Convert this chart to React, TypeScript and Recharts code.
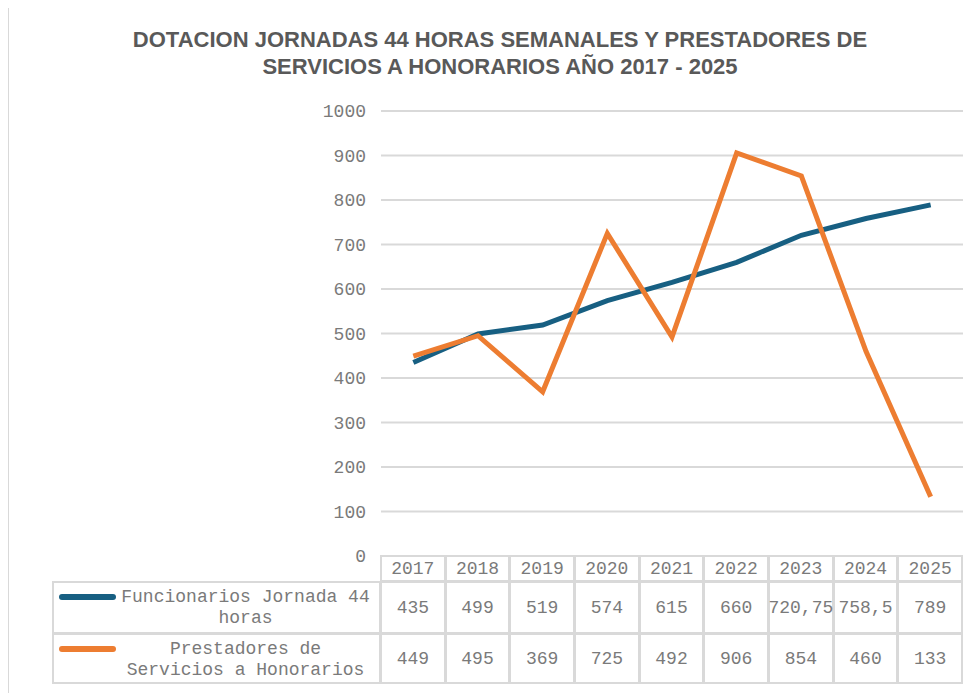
import { LineChart, Line, XAxis, YAxis, CartesianGrid } from 'recharts'

const years = ['2017', '2018', '2019', '2020', '2021', '2022', '2023', '2024', '2025']
const funcionarios = [435, 499, 519, 574, 615, 660, 720.75, 758.5, 789]
const prestadores = [449, 495, 369, 725, 492, 906, 854, 460, 133]
const yTicks = [0, 100, 200, 300, 400, 500, 600, 700, 800, 900, 1000]

const seriesInfo = [
  { key: 'funcionarios', values: funcionarios, color: '#175F82', label: ['Funcionarios Jornada 44', 'horas'] },
  { key: 'prestadores', values: prestadores, color: '#ED7D31', label: ['Prestadores de', 'Servicios a Honorarios'] },
]

const data = years.map((y, i) => ({ year: y, funcionarios: funcionarios[i], prestadores: prestadores[i] }))

const W = 972
const H = 685
const PLOT_L = 373
const PLOT_R = 955
const PLOT_T = 103
const PLOT_B = 548
const colW = (PLOT_R - PLOT_L) / years.length
const rowTops = [PLOT_B, 574, 626, 676]
const LEG_L = 45
const BORDER = '#d9d9d9'
const TEXT = '#7a7a7a'
const mono = '"Liberation Mono", "DejaVu Sans Mono", monospace'

const fmt = (v: number) => String(v).replace('.', ',')

export default function App() {
  const cell = (left: number, top: number, width: number, height: number, content: React.ReactNode, key: string) => (
    <div
      key={key}
      style={{
        position: 'absolute',
        left,
        top,
        width,
        height,
        boxSizing: 'border-box',
        border: `2px solid ${BORDER}`,
        marginLeft: -1,
        marginTop: -1,
        display: 'flex',
        alignItems: 'center',
        justifyContent: 'center',
        whiteSpace: 'nowrap',
        overflow: 'visible',
        fontFamily: mono,
        fontSize: 18,
        color: TEXT,
      }}
    >
      {content}
    </div>
  )

  return (
    <div style={{ position: 'relative', width: W, height: H, background: '#fff' }}>
      <div
        style={{
          position: 'absolute',
          left: -1,
          top: -2,
          width: 1000,
          height: 700,
          border: `2px solid ${BORDER}`,
          boxSizing: 'border-box',
        }}
      />
      <div
        style={{
          position: 'absolute',
          left: 0,
          width: 984,
          top: 18,
          textAlign: 'center',
          fontFamily: '"Liberation Sans", Arial, sans-serif',
          fontWeight: 'bold',
          fontSize: 22,
          lineHeight: '27px',
          color: '#595959',
        }}
      >
        DOTACION JORNADAS 44 HORAS SEMANALES Y PRESTADORES DE
        <br />
        SERVICIOS A HONORARIOS AÑO 2017 - 2025
      </div>
      <div style={{ position: 'absolute', left: 0, top: 0 }}>
        <LineChart
          width={W}
          height={H}
          data={data}
          margin={{ top: PLOT_T, left: PLOT_L - 80, right: W - PLOT_R, bottom: H - PLOT_B }}
        >
          <CartesianGrid vertical={false} stroke={BORDER} strokeWidth={2} />
          <XAxis dataKey="year" hide padding={{ left: colW / 2, right: colW / 2 }} />
          <YAxis
            width={80}
            domain={[0, 1000]}
            ticks={yTicks}
            axisLine={false}
            tickLine={false}
            tickMargin={9}
            tick={{ fill: TEXT, fontFamily: mono, fontSize: 18 }}
          />
          {seriesInfo.map(s => (
            <Line
              key={s.key}
              dataKey={s.key}
              type="linear"
              stroke={s.color}
              strokeWidth={5}
              dot={false}
              activeDot={false}
              isAnimationActive={false}
            />
          ))}
        </LineChart>
      </div>
      {years.map((y, i) =>
        cell(PLOT_L + i * colW, rowTops[0], colW + 1, rowTops[1] - rowTops[0] + 1, y, 'h' + y)
      )}
      {seriesInfo.map((s, r) => (
        <div key={s.key}>
          {cell(
            LEG_L,
            rowTops[r + 1],
            PLOT_L - LEG_L + 1,
            rowTops[r + 2] - rowTops[r + 1] + 1,
            <div style={{ position: 'relative', width: '100%', height: '100%' }}>
              <div
                style={{
                  position: 'absolute',
                  left: 5,
                  top: 11,
                  width: 57,
                  height: 6,
                  borderRadius: 3,
                  background: s.color,
                }}
              />
              <div
                style={{
                  position: 'absolute',
                  left: 58,
                  right: 0,
                  top: 4,
                  textAlign: 'center',
                  lineHeight: '21px',
                }}
              >
                {s.label[0]}
                <br />
                {s.label[1]}
              </div>
            </div>,
            'l' + s.key
          )}
          {s.values.map((v, i) =>
            cell(
              PLOT_L + i * colW,
              rowTops[r + 1],
              colW + 1,
              rowTops[r + 2] - rowTops[r + 1] + 1,
              fmt(v),
              s.key + i
            )
          )}
        </div>
      ))}
    </div>
  )
}
